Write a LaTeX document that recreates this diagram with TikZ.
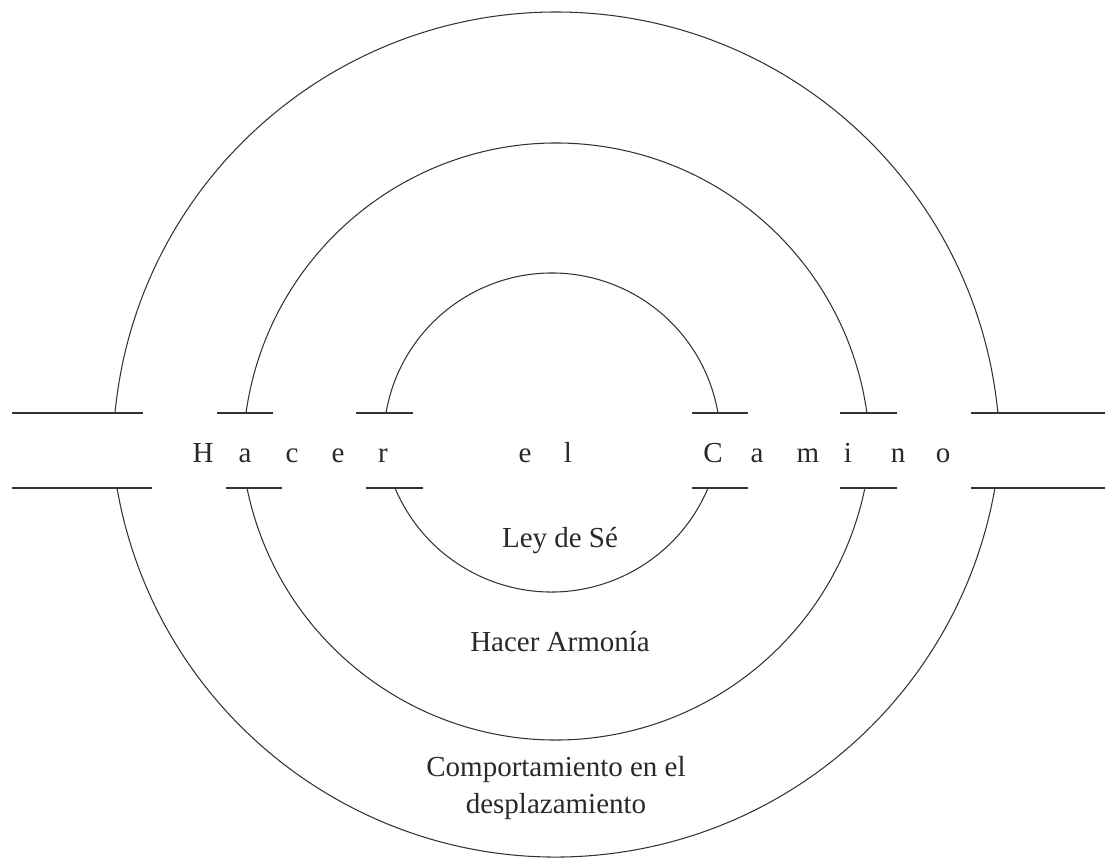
\documentclass[tikz,border=0pt]{standalone}
\usepackage{fontspec}
\setmainfont{Liberation Serif}
\usetikzlibrary{positioning}
\usepackage{xcolor}
\definecolor{ink}{HTML}{333333}
\tikzset{
  trazo/.style={draw=ink,line width=0.6pt},
  letra/.style={font=\fontsize{16.5}{20}\selectfont,text=ink!80!black,inner sep=0pt,anchor=base},
  rotulo/.style={font=\fontsize{16.5}{21}\selectfont,text=ink!80!black,align=center,inner sep=0pt}
}
\begin{document}
\begin{tikzpicture}[x=0.02cm,y=0.02cm]
\useasboundingbox (0,0) rectangle (1107,860);

\foreach \a/\b in {12/143,217/273,356/413,692/748,840/897,971/1105}
  \draw[trazo] (\a,447) -- (\b,447);
\foreach \a/\b in {12/152,226/282,366/423,692/748,840/897,971/1105}
  \draw[trazo] (\a,372) -- (\b,372);

\draw[trazo] (115,447) arc[start angle=174.5,end angle=5.5,radius=443.5];
\draw[trazo] (246,447) arc[start angle=172.02,end angle=7.98,radius=313.5];
\draw[trazo] (386,447) arc[start angle=170.29,end angle=9.71,radius=168.4];
\draw[trazo] (117,372) arc[start angle=189.9,end angle=350.1,radius=445.6];
\draw[trazo] (247,372) arc[start angle=191.6,end angle=348.4,radius=315.4];
\draw[trazo] (395,372) arc[start angle=202.8,end angle=337.2,radius=169.8];

\foreach \ch/\xx [count=\i] in {H/203,a/245,c/292,e/338,r/383,e/525,l/568,C/713,a/757,m/808,i/848,n/898,o/943}
  \node[letra] (letra\i) at (\xx,397) {\ch};

\node[letra] (ley) at (560,312) {Ley de Sé};
\node[letra] (armonia) at (560,208) {Hacer Armonía};
\node[rotulo] (comportamiento) at (556,72) {Comportamiento en el\\desplazamiento};
\end{tikzpicture}
\end{document}
